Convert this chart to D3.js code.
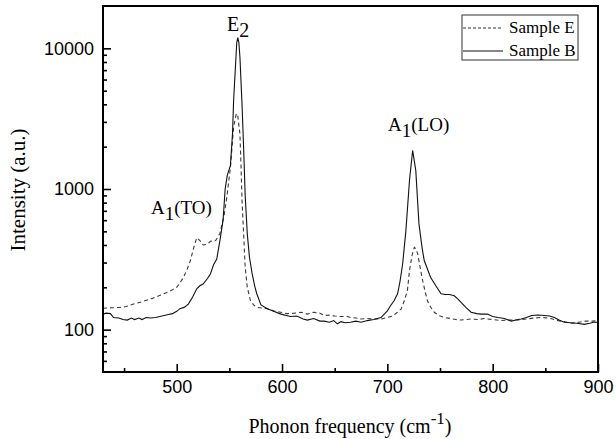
<!DOCTYPE html>
<html lang="en">
<head>
  <meta charset="UTF-8">
  <title>Raman spectra</title>
  <script src="https://d3js.org/d3.v7.min.js"></script>
  <style>
    body { margin: 0; background: #fff; }
    .tick text { font-family: "Liberation Sans", Arial, sans-serif; font-size: 18px; fill: #000; }
    .serif { font-family: "Liberation Serif", "Times New Roman", serif; fill: #000; }
  </style>
</head>
<body>
  <svg id="chart" width="616" height="439"></svg>

  <script>
    // Sample B (solid) - frequency / intensity
    const freqB = [430, 433, 437, 440, 445, 449, 453, 457, 460, 464, 467, 471, 475, 480, 484, 488, 492, 496,
      500, 503, 507, 511, 515, 519, 522, 525, 529, 532, 535, 538, 541, 544, 546, 548, 551, 553, 554, 556,
      557, 558, 559, 560, 562, 563.6, 565, 567, 569, 571.6, 574, 576, 580, 586, 592, 599, 608, 614, 620,
      624, 630, 636, 640, 645, 649, 652.6, 656, 660, 665, 670, 675, 681, 687, 694, 700, 703, 706.5, 709.7,
      712, 714.5, 717.6, 721, 724, 727, 730, 733, 735, 741, 746, 751, 755, 759, 763.6, 767, 770, 775,
      779.5, 785, 789, 795, 800, 805, 811, 817.6, 822, 827, 832, 837, 843, 849, 854, 858.6, 863, 868, 874,
      880, 887, 892, 896, 900];
    const intB = [129, 131, 130, 122, 121, 118, 117, 121, 118, 121, 118, 122, 121, 122, 124, 126, 128, 130,
      135, 141, 144, 152, 170, 195, 205, 211, 230, 249, 290, 318, 430, 600, 1000, 1250, 1470, 2500, 4240, 8000,
      11000, 11900, 11000, 8700, 4000, 1880, 900, 480, 330, 250, 205, 180, 150, 141, 135, 129, 124, 125, 119,
      117, 120, 115, 115, 113, 116, 110, 114, 112, 113, 115, 113, 116, 118, 122, 136, 148, 161, 180,
      220, 293, 506, 1150, 1880, 1350, 565, 380, 310, 236, 205, 180, 178, 178, 174, 165, 156, 143,
      133, 130, 129, 129, 124, 122, 120, 115, 117, 119, 122, 126, 127, 126, 125, 122, 117, 113, 112,
      111, 109, 111, 113, 113];

    // Sample E (dashed)
    const freqE = [430, 438, 446, 452, 459, 467, 475, 483, 490.6, 496, 500, 503, 506.5, 510, 513, 516, 519,
      522, 525, 529, 532, 537, 541, 545, 548, 551, 554, 556.6, 558, 560, 561, 562, 565, 567, 570, 573, 576,
      586, 592, 598.6, 605, 612, 618, 624, 630, 636, 640, 645, 650, 655, 662, 665, 670, 675, 681, 687, 694,
      700, 705, 709.5, 713, 716, 719, 721, 723.5, 725.6, 727, 728.8, 731, 733.5, 736, 738, 741, 744.6, 749,
      754, 760, 765, 770, 779.5, 786, 792, 800, 808, 816, 824, 832, 839.6, 846, 852.6, 857, 862, 868, 875,
      882, 888, 895, 900];
    const intE = [142, 143, 144, 146, 152, 158, 165, 174, 184, 192, 200, 215, 236, 270, 310, 380, 450,
      430, 400, 404, 425, 430, 483, 650, 925, 1430, 2750, 3440, 3300, 2470, 1500, 830, 277, 200, 161, 150, 144,
      141, 136, 133, 130, 131, 133, 129, 133, 131, 126, 127, 125, 124, 124, 122, 121, 119, 120, 119, 119,
      122, 125, 133, 140, 160, 189, 263, 340, 385, 375, 346, 280, 223, 185, 161, 145, 133, 126,
      122, 120, 118, 117, 119, 118, 120, 118, 116, 117, 117, 119, 121, 122, 121, 119, 116, 114, 111,
      113, 115, 115, 116];

    const xMajor = [500, 600, 700, 800, 900];
    const xMinor = [450, 550, 650, 750, 850];
    const yMajor = [100, 1000, 10000];
    const yMinor = [60, 70, 80, 90, 200, 300, 400, 500, 600, 700, 800, 900,
      2000, 3000, 4000, 5000, 6000, 7000, 8000, 9000];

    const svg = d3.select("#chart");
    const mLeft = 103, mRight = 598, mTop = 6, mBottom = 372;

    const x = d3.scaleLinear().domain([430, 900]).range([mLeft, mRight]);
    const y = d3.scaleLog().domain([50, 20000]).range([mBottom, mTop]);

    // axes (ticks point inward)
    svg.append("g")
      .attr("transform", `translate(0,${mBottom})`)
      .call(d3.axisBottom(x).tickValues(xMajor).tickSize(-8).tickPadding(8).tickFormat(d3.format("d")))
      .call(g => g.select(".domain").remove());
    svg.append("g")
      .attr("transform", `translate(0,${mBottom})`)
      .call(d3.axisBottom(x).tickValues(xMinor).tickSize(-4).tickFormat(""))
      .call(g => g.select(".domain").remove());
    svg.append("g")
      .attr("transform", `translate(${mLeft},0)`)
      .call(d3.axisLeft(y).tickValues(yMajor).tickSize(-8).tickPadding(9).tickFormat(d3.format("d")))
      .call(g => g.select(".domain").remove());
    svg.append("g")
      .attr("transform", `translate(${mLeft},0)`)
      .call(d3.axisLeft(y).tickValues(yMinor).tickSize(-4).tickFormat(""))
      .call(g => g.select(".domain").remove());

    svg.selectAll(".tick line").attr("stroke", "#000").attr("stroke-width", 1.6);
    svg.selectAll(".tick text").attr("fill", "#000");

    // curves
    const line = d3.line().x(d => x(d[0])).y(d => y(d[1]));
    const dataE = freqE.map((f, i) => [f, intE[i]]);
    const dataB = freqB.map((f, i) => [f, intB[i]]);

    svg.append("path")
      .datum(dataE)
      .attr("d", line)
      .attr("fill", "none")
      .attr("stroke", "#3a3a3a")
      .attr("stroke-width", 1.1)
      .attr("stroke-dasharray", "4,3");
    svg.append("path")
      .datum(dataB)
      .attr("d", line)
      .attr("fill", "none")
      .attr("stroke", "#111")
      .attr("stroke-width", 1.1);

    // frame
    svg.append("rect")
      .attr("x", mLeft).attr("y", mTop)
      .attr("width", mRight - mLeft).attr("height", mBottom - mTop)
      .attr("fill", "none").attr("stroke", "#000").attr("stroke-width", 2);

    // legend
    const lg = svg.append("g");
    lg.append("rect").attr("x", 462).attr("y", 15).attr("width", 116).attr("height", 45)
      .attr("fill", "#fff").attr("stroke", "#333").attr("stroke-width", 1);
    lg.append("line").attr("x1", 463).attr("x2", 503).attr("y1", 28).attr("y2", 28)
      .attr("stroke", "#333").attr("stroke-width", 1.1).attr("stroke-dasharray", "3,2");
    lg.append("line").attr("x1", 463).attr("x2", 503).attr("y1", 51).attr("y2", 51)
      .attr("stroke", "#111").attr("stroke-width", 1.1);
    lg.append("text").attr("class", "serif").attr("x", 509).attr("y", 33)
      .style("font-size", "17px").text("Sample E");
    lg.append("text").attr("class", "serif").attr("x", 509).attr("y", 56)
      .style("font-size", "17px").text("Sample B");

    // peak labels
    const e2 = svg.append("text").attr("class", "serif").attr("x", 227).attr("y", 31).style("font-size", "20px");
    e2.append("tspan").text("E");
    e2.append("tspan").attr("dy", 6).text("2");

    const to = svg.append("text").attr("class", "serif").attr("x", 151).attr("y", 214).style("font-size", "19px");
    to.append("tspan").text("A");
    to.append("tspan").attr("dy", 6).text("1");
    to.append("tspan").attr("dy", -6).text("(TO)");

    const lo = svg.append("text").attr("class", "serif").attr("x", 388).attr("y", 131).style("font-size", "19px");
    lo.append("tspan").text("A");
    lo.append("tspan").attr("dy", 6).text("1");
    lo.append("tspan").attr("dy", -6).text("(LO)");

    // axis titles
    const xt = svg.append("text").attr("class", "serif").attr("x", 350).attr("y", 433)
      .attr("text-anchor", "middle").style("font-size", "20px");
    xt.append("tspan").text("Phonon frequency (cm");
    xt.append("tspan").attr("dy", -9).style("font-size", "17px").text("-1");
    xt.append("tspan").attr("dy", 9).text(")");

    svg.append("text").attr("class", "serif")
      .attr("transform", "translate(25,190) rotate(-90)")
      .attr("text-anchor", "middle").style("font-size", "21px")
      .text("Intensity (a.u.)");
  </script>
</body>
</html>
